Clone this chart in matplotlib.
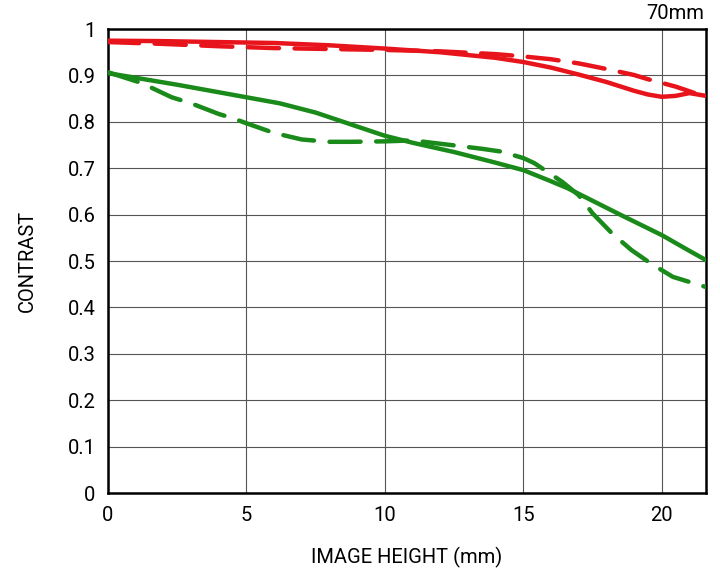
import matplotlib
matplotlib.use("Agg")
from matplotlib import pyplot as plt

# Image height (mm) samples
x_red = [0, 2, 4, 6, 8, 10, 12, 14, 15, 16, 17, 18, 19, 19.5, 20, 20.5, 21, 21.6]
red_solid = [0.975, 0.974, 0.972, 0.970, 0.965, 0.958, 0.950, 0.938, 0.929, 0.917, 0.902, 0.886, 0.867, 0.859, 0.854, 0.856, 0.862, 0.856]
red_dashed = [0.972, 0.968, 0.963, 0.959, 0.957, 0.955, 0.952, 0.946, 0.941, 0.935, 0.926, 0.914, 0.901, 0.892, 0.884, 0.876, 0.866, 0.853]

x_green_solid = [0, 2.5, 5, 6.2, 7.5, 9, 10, 11, 12.5, 14, 15, 16, 16.6, 17.5, 18.5, 20, 21, 21.6]
green_solid = [0.905, 0.880, 0.853, 0.840, 0.820, 0.790, 0.770, 0.755, 0.735, 0.712, 0.696, 0.672, 0.657, 0.630, 0.600, 0.556, 0.522, 0.502]

x_green_dashed = [0, 1.2, 2.3, 3, 4, 4.5, 5, 6, 7, 8, 8.75, 10, 11, 12.4, 13.5, 14.2, 15, 15.4, 16.4, 17, 17.5, 18.2, 18.9, 19.6, 20.4, 21, 21.6]
green_dashed = [0.907, 0.884, 0.853, 0.840, 0.817, 0.808, 0.797, 0.776, 0.762, 0.757, 0.757, 0.758, 0.760, 0.750, 0.742, 0.736, 0.722, 0.711, 0.671, 0.642, 0.603, 0.560, 0.524, 0.495, 0.466, 0.455, 0.444]

x_ticks = [0, 5, 10, 15, 20]
y_ticks = [0, 0.1, 0.2, 0.3, 0.4, 0.5, 0.6, 0.7, 0.8, 0.9, 1]
y_tick_labels = ["0", "0.1", "0.2", "0.3", "0.4", "0.5", "0.6", "0.7", "0.8", "0.9", "1"]

RED = '#e8141c'
GREEN = '#1a8a1a'

plt.rcParams['font.family'] = ['Roboto', 'DejaVu Sans']

fig = plt.figure(figsize=(7.2, 5.7), dpi=100)
ax = fig.add_axes([0.15, 0.135, 0.8306, 0.814])

ax.plot(x_red, red_solid, color=RED, lw=3.2, solid_capstyle='round', zorder=4)
ax.plot(x_red, red_dashed, color=RED, lw=3.2, dashes=(7, 3.5), dash_capstyle='round', zorder=4)
ax.plot(x_green_solid, green_solid, color=GREEN, lw=3.2, solid_capstyle='round', zorder=3)
ax.plot(x_green_dashed, green_dashed, color=GREEN, lw=3.2, dashes=(7, 3.5), dash_capstyle='round', zorder=3)

ax.set_xlim(0, 21.6)
ax.set_ylim(0, 1)
ax.set_xticks(x_ticks)
ax.set_yticks(y_ticks)
ax.set_yticklabels(y_tick_labels)
ax.tick_params(length=0, labelsize=14.5, pad=9, colors='black')
ax.grid(True, color='#555555', lw=0.8)
ax.set_axisbelow(True)
for s in ax.spines.values():
    s.set_linewidth(1.8)
    s.set_color('black')

ax.set_xlabel("IMAGE HEIGHT (mm)", fontsize=14.5, labelpad=16, color='black')
ax.set_ylabel("CONTRAST", fontsize=14.5, labelpad=22, color='black')
fig.text(0.978, 0.977, "70mm", ha='right', va='center', fontsize=14.5, color='black')

fig.savefig("out.png", dpi=100)
